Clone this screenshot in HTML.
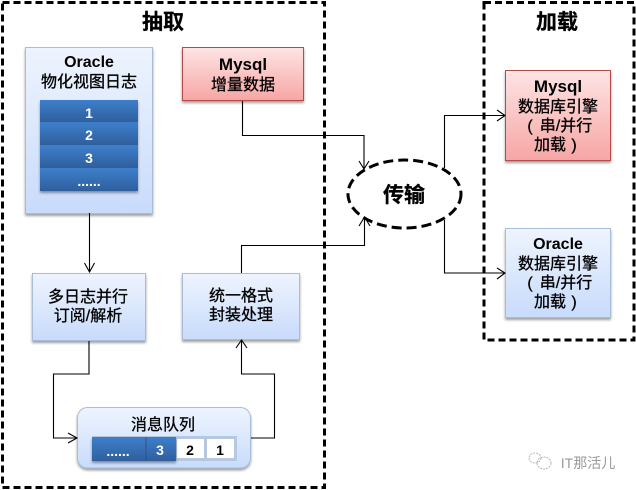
<!DOCTYPE html>
<html><head><meta charset="utf-8">
<style>
html,body{margin:0;padding:0;background:#fff}
svg{display:block}
text{font-family:"Liberation Sans","Noto Sans CJK SC",sans-serif;text-anchor:middle;fill:#000}
.b{font-weight:bold}
.t{font-size:16px;stroke:#000;stroke-width:.3}
.w{fill:#fff;font-weight:bold;font-size:14px}
.l{fill:none;stroke:#000;stroke-width:1.1}
</style></head><body>
<svg width="636" height="490" viewBox="0 0 636 490" xmlns="http://www.w3.org/2000/svg">
<defs>
<linearGradient id="bl" x1="0" y1="0" x2="0" y2="1"><stop offset="0" stop-color="#eef4fe"/><stop offset="1" stop-color="#c8dbfb"/></linearGradient>
<linearGradient id="rd" x1="0" y1="0" x2="0" y2="1"><stop offset="0" stop-color="#fde4e4"/><stop offset="1" stop-color="#f6a6a4"/></linearGradient>
<linearGradient id="dk" x1="0" y1="0" x2="0" y2="1"><stop offset="0" stop-color="#3d7fcc"/><stop offset="1" stop-color="#2f5f9c"/></linearGradient>
<filter id="s" x="-10%" y="-10%" width="120%" height="125%"><feDropShadow dx="0" dy="2" stdDeviation="1.2" flood-color="#000" flood-opacity=".38"/></filter>
</defs>

<rect x="2.5" y="2.5" width="322" height="485" fill="none" stroke="#000" stroke-width="3" stroke-dasharray="7 4"/>
<rect x="484" y="2.5" width="150" height="337.5" fill="none" stroke="#000" stroke-width="3" stroke-dasharray="7 4"/>

<text x="163" y="29" class="b" font-size="21" stroke="#000" stroke-width=".3">抽取</text>
<text x="557" y="29" class="b" font-size="21" stroke="#000" stroke-width=".3">加载</text>

<!-- Oracle log -->
<rect x="25.5" y="47.5" width="127" height="166" fill="url(#bl)" stroke="#a9bcd8" filter="url(#s)"/>
<text x="89" y="67" class="b" font-size="16">Oracle</text>
<text x="89" y="87" class="t">物化视图日志</text>
<g filter="url(#s)">
<rect x="40" y="100" width="98" height="22" fill="url(#dk)"/>
<rect x="40" y="122" width="98" height="23" fill="url(#dk)"/>
<rect x="40" y="145" width="98" height="23" fill="url(#dk)"/>
<rect x="40" y="168" width="98" height="23" fill="url(#dk)"/>
</g>
<text x="89" y="118" class="w">1</text>
<text x="89" y="140" class="w">2</text>
<text x="89" y="163" class="w">3</text>
<text x="89" y="186" class="w">......</text>

<!-- Mysql source -->
<rect x="182.5" y="47.5" width="121" height="53" fill="url(#rd)" stroke="#b84a48" filter="url(#s)"/>
<text x="243" y="70" class="b" font-size="17">Mysql</text>
<text x="243" y="90" class="t">增量数据</text>

<!-- Parse -->
<rect x="32.5" y="273.5" width="113" height="67" fill="url(#bl)" stroke="#a9bcd8" filter="url(#s)"/>
<text x="88" y="302" class="t">多日志并行</text>
<text x="88" y="321" class="t">订阅/解析</text>

<!-- Format -->
<rect x="182.5" y="273.5" width="117" height="66" fill="url(#bl)" stroke="#a9bcd8" filter="url(#s)"/>
<text x="241" y="301" class="t">统一格式</text>
<text x="241" y="320" class="t">封装处理</text>

<!-- Queue -->
<rect x="77.5" y="407.5" width="173" height="60.5" rx="10" fill="url(#bl)" stroke="#a9bcd8" filter="url(#s)"/>
<text x="163" y="430" class="t">消息队列</text>
<rect x="92" y="436" width="145" height="25" fill="#b6c7e0"/>
<rect x="177" y="439" width="27" height="19" fill="#fff"/>
<rect x="207" y="439" width="27" height="19" fill="#fff"/>
<g filter="url(#s)">
<rect x="92" y="437" width="84" height="24" fill="url(#dk)"/>
</g>
<rect x="145.5" y="437" width="1" height="24" fill="#2a5488"/>
<text x="118" y="456" class="w">......</text>
<text x="160" y="455" class="w">3</text>
<text x="190" y="455" class="b" font-size="14">2</text>
<text x="220" y="455" class="b" font-size="14">1</text>

<!-- Ellipse -->
<ellipse cx="404.5" cy="194" rx="56.5" ry="34" fill="#fff" stroke="#000" stroke-width="3" stroke-dasharray="10 5"/>
<text x="404" y="202" class="b" font-size="21" stroke="#000" stroke-width=".3">传输</text>

<!-- Targets -->
<rect x="505.5" y="70.5" width="105" height="90" fill="url(#rd)" stroke="#b84a48" filter="url(#s)"/>
<text x="558" y="92" class="b" font-size="17">Mysql</text>
<text x="558" y="112" class="t">数据库引擎</text>
<text x="530" y="131" class="t">(</text>
<text x="566" y="131" class="t">串/并行</text>
<text x="550" y="150" class="t">加载</text>
<text x="574" y="150" class="t">)</text>

<rect x="505.5" y="228.5" width="105" height="89" fill="url(#bl)" stroke="#a9bcd8" filter="url(#s)"/>
<text x="558" y="249" class="b" font-size="16">Oracle</text>
<text x="558" y="269" class="t">数据库引擎</text>
<text x="530" y="288" class="t">(</text>
<text x="566" y="288" class="t">串/并行</text>
<text x="550" y="307" class="t">加载</text>
<text x="574" y="307" class="t">)</text>

<!-- Connectors -->
<path class="l" d="M89.5 213V272M84.5 263L89.5 272L94.5 263"/>
<path class="l" d="M89 341V374H53.5V438H77M68 433L77 438L68 443"/>
<path class="l" d="M251 438H274.5V374H241.5V341M236 348L241.5 340L247 348"/>
<path class="l" d="M242.5 101V135.5H364V168M359 161L364 169L369 161"/>
<path class="l" d="M241.5 273V245.5H364.5V218M359 226L364.5 217L370 226"/>
<path class="l" d="M444.5 168V115.5H505M497 110L505 115.5L497 121"/>
<path class="l" d="M444.5 220V273H505M497 268L505 273L497 279"/>

<!-- Watermark -->
<g fill="none" stroke="#b5b5b5" stroke-width="1" stroke-dasharray="2 1">
<ellipse cx="535" cy="458" rx="6" ry="5"/>
<ellipse cx="544" cy="463" rx="7" ry="6"/>
</g>
<text x="588" y="468" font-size="14" style="fill:#9a9a9a">IT那活儿</text>
</svg>
</body></html>
